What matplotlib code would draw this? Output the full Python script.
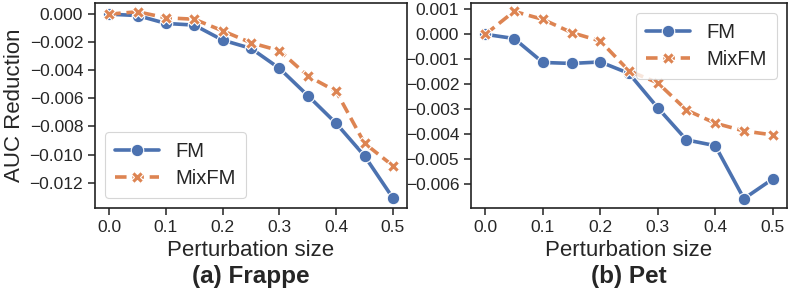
import matplotlib
matplotlib.use("Agg")
import matplotlib.pyplot as plt
from matplotlib.ticker import FuncFormatter
import seaborn as sns

sns.set_theme(style="ticks")
plt.rcParams['font.family'] = ['Liberation Sans', 'DejaVu Sans']

sizes = [0.0, 0.05, 0.1, 0.15, 0.2, 0.25, 0.3, 0.35, 0.4, 0.45, 0.5]

frappe_fm = [0.0, -0.0001, -0.00066, -0.00078, -0.00185, -0.00244, -0.00386, -0.0058, -0.00778, -0.0101, -0.0131]
frappe_mix = [0.0, 0.00017, -0.00026, -0.00036, -0.00119, -0.00204, -0.0026, -0.0044, -0.0055, -0.0092, -0.0108]

pet_fm = [0.0, -0.00017, -0.00113, -0.00117, -0.00111, -0.00157, -0.00295, -0.00424, -0.00447, -0.0066, -0.00581]
pet_mix = [0.0, 0.00092, 0.0006, 0.00007, -0.00027, -0.00147, -0.00195, -0.00304, -0.00357, -0.00388, -0.00404]

blue = "#4C72B0"
orange = "#DD8452"

fig = plt.figure(figsize=(7.89, 2.92), dpi=100)
ax1 = fig.add_axes([0.1204, 0.288, 0.3956, 0.702])
ax2 = fig.add_axes([0.597, 0.288, 0.4005, 0.702])

fmt = FuncFormatter(lambda v, p: ("%.3f" % v).replace("-", "\u2212") if abs(v) > 1e-9 else "0.000")


def draw(ax, fm, mix, ylim, yticks, loc, title):
    ax.plot(sizes, fm, color=blue, lw=2.6, marker="o", ms=9,
            mec="white", mew=0.8, label="FM")
    ax.plot(sizes, mix, color=orange, lw=2.6, ls=(0, (3.2, 1.6)), marker="X",
            ms=9, mec="white", mew=0.8, label="MixFM")
    ax.set_xlim(-0.025, 0.525)
    ax.set_ylim(*ylim)
    ax.set_xticks([0.0, 0.1, 0.2, 0.3, 0.4, 0.5])
    ax.set_yticks(yticks)
    ax.yaxis.set_major_formatter(fmt)
    ax.tick_params(labelsize=12.5, length=5, width=1.1, color="#222222", pad=3.5)
    for s in ax.spines.values():
        s.set_linewidth(1.2)
        s.set_color("#222222")
    ax.set_xlabel("Perturbation size", fontsize=16, labelpad=4)
    leg = ax.legend(loc=loc, fontsize=14.5, handlelength=2.2, markerscale=1.0,
                    borderpad=0.5, labelspacing=0.4, handletextpad=0.8)
    leg.get_frame().set_linewidth(0.8)
    x0, _, w, _ = ax.get_position().bounds
    fig.text(x0 + w / 2, 0.052, title, ha="center", va="center",
             fontsize=17.5, fontweight="bold")


draw(ax1, frappe_fm, frappe_mix, (-0.0138, 0.0008),
     [0.0, -0.002, -0.004, -0.006, -0.008, -0.010, -0.012], "lower left", "(a) Frappe")
ax1.set_ylabel("AUC Reduction", fontsize=16, labelpad=3)

draw(ax2, pet_fm, pet_mix, (-0.00697, 0.00126),
     [0.001, 0.0, -0.001, -0.002, -0.003, -0.004, -0.005, -0.006], "upper right", "(b) Pet")

fig.savefig("out.png", dpi=100)
